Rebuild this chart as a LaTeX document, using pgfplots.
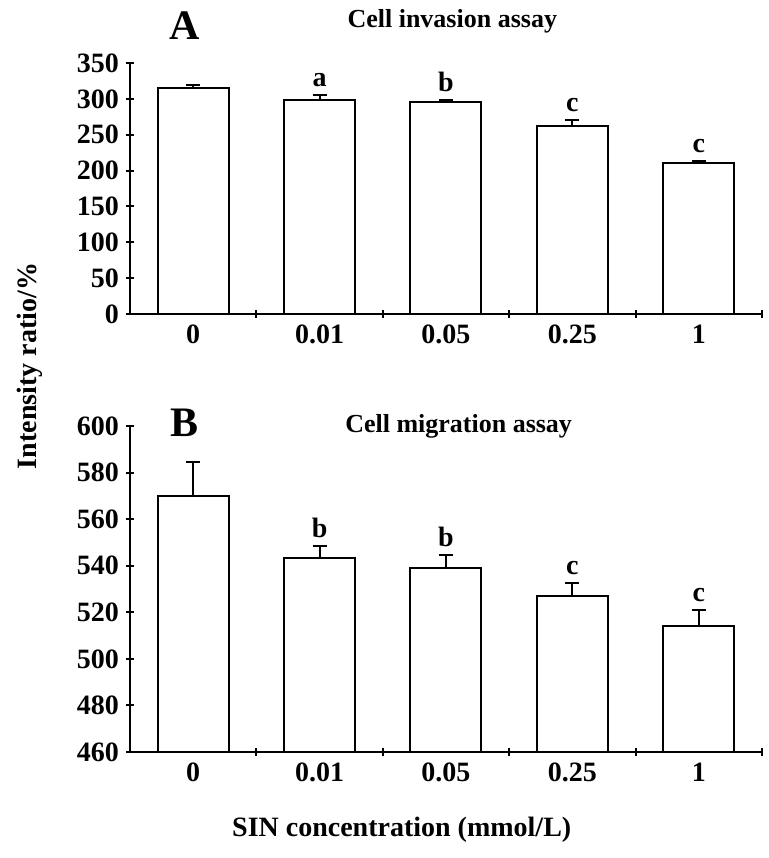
\documentclass[border=0pt]{standalone}
\usepackage{pgfplots}
\usepackage{pgfplotstable}
\pgfplotsset{compat=1.18}
\usepackage{fontspec}
\setmainfont{Liberation Serif}

% value, upper error, letter
\pgfplotstableread{
x y e lab
0 315 4.7 none
1 299 6.5 a
2 296 2.4 b
3 262 8.3 c
4 211 2.3 c
}\invasion
\pgfplotstableread{
x y e lab
0 570 14.5 none
1 543.5 5.0 b
2 539 5.4 b
3 527 5.4 c
4 514 7.0 c
}\migration

\pgfplotsset{
  panel/.style={
    scale only axis, width=316pt,
    xmin=-0.5, xmax=4.5,
    axis x line=bottom, axis y line=left,
    axis line style={-, line width=1pt},
    xtick={0,...,4}, xticklabels={0,0.01,0.05,0.25,1},
    every major x tick/.style={draw=none},
    minor xtick={0.5,1.5,2.5,3.5,4.5},
    minor tick length=4pt, major tick length=4pt,
    xtick align=center, ytick align=center,
    tick style={line width=1pt, black},
    tick label style={font=\fontsize{14}{16}\selectfont\bfseries},
    /pgf/number format/assume math mode=true,
    clip=false,
  },
  bars/.style={ybar, bar width=35.5pt, fill=white, draw=black, line width=1pt,
    error bars/.cd, y dir=plus, y explicit, error mark=-,
    error bar style={line width=1pt, black},
    error mark options={rotate=90, line width=1pt, mark size=3.5pt, black}},
  letters/.style={only marks, mark=none, nodes near coords,
    point meta=explicit symbolic, restrict x to domain=0.5:5,
    every node near coord/.append style={font=\fontsize{14}{16}\selectfont\bfseries, anchor=south, inner sep=4pt}},
}

\begin{document}
\begin{tikzpicture}
\begin{axis}[panel, name=top, at={(0,219pt)}, anchor=south west,
  height=125.5pt, ymin=0, ymax=350, ytick={0,50,...,350}]
\addplot[bars] table[x=x, y=y, y error=e] {\invasion};
\addplot[letters] table[x=x, y expr=\thisrow{y}+\thisrow{e}, meta=lab] {\invasion};
\node[font=\fontsize{21}{22}\selectfont\bfseries] at (rel axis cs:0.087,1.15) {A};
\node[font=\fontsize{13}{15}\selectfont\bfseries] at (rel axis cs:0.51,1.165) {Cell invasion assay};
\end{axis}
\begin{axis}[panel, name=bot, at={(0,0)}, anchor=south west,
  height=163pt, ymin=460, ymax=600, ytick={460,480,...,600}]
\addplot[bars] table[x=x, y=y, y error=e] {\migration};
\addplot[letters] table[x=x, y expr=\thisrow{y}+\thisrow{e}, meta=lab] {\migration};
\node[font=\fontsize{21}{22}\selectfont\bfseries] at (rel axis cs:0.087,1.01) {B};
\node[font=\fontsize{13}{15}\selectfont\bfseries] at (rel axis cs:0.52,1.0) {Cell migration assay};
\node[font=\fontsize{14}{16}\selectfont\bfseries] at (rel axis cs:0.43,-0.24) {SIN concentration (mmol/L)};
\end{axis}
\node[rotate=90, font=\fontsize{14}{16}\selectfont\bfseries] at (-50pt,193pt) {Intensity ratio/\%};
\pgfresetboundingbox
\path[use as bounding box] (-65pt,-53pt) rectangle (319pt,376pt);
\end{tikzpicture}
\end{document}
